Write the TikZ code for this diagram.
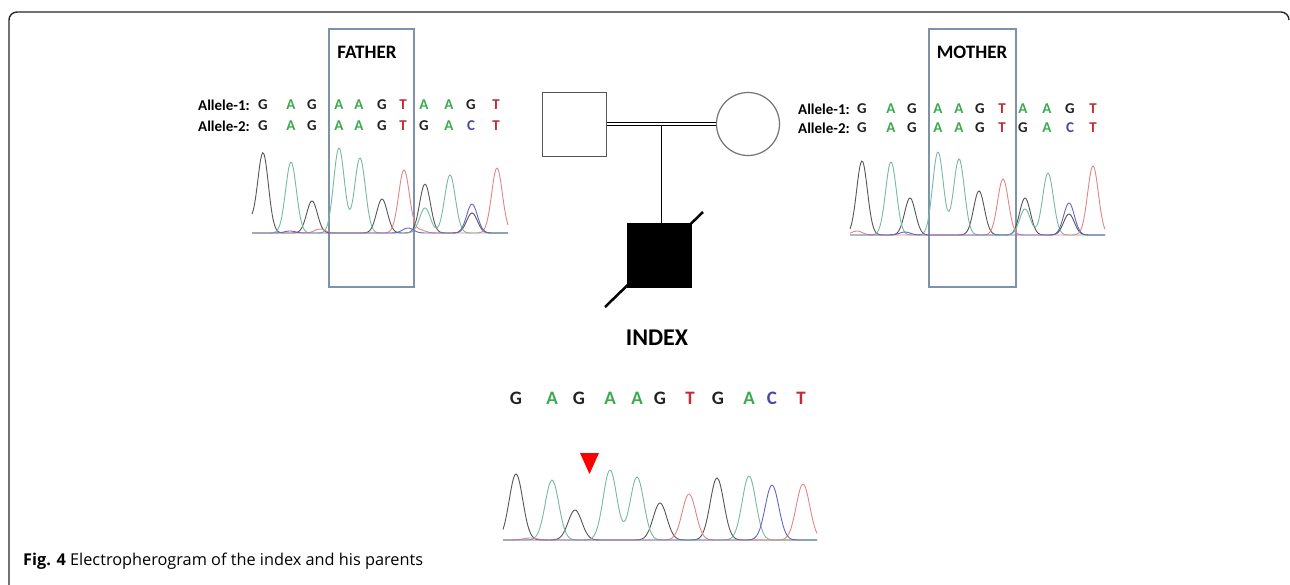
\documentclass[tikz,border=0pt]{standalone}
\usepackage{fontspec}
\setmainfont{Carlito}
\newfontfamily\capfont{Open Sans}
\usetikzlibrary{calc}
\definecolor{colA}{HTML}{3BAA4E}
\definecolor{colG}{HTML}{222222}
\definecolor{colT}{HTML}{C42B33}
\definecolor{colC}{HTML}{4848A8}
\definecolor{trK}{HTML}{555555}
\definecolor{trG}{HTML}{76B8A0}
\definecolor{trR}{HTML}{E28585}
\definecolor{trB}{HTML}{6464C8}
\definecolor{boxc}{HTML}{7D93AB}
\definecolor{pedc}{HTML}{555555}
\newcommand\gp[2]{#2*exp(-min(((\x-#1)/\sg)^2,20))}
\newcommand\chrom[5]{\draw[#1,line width=0.9pt] plot[domain=#2:#3,samples=240,smooth] (\x,{#4-(#5)});}
\tikzset{
  nuc/.style={text=col#1,font=\bfseries\fontsize{15}{15}\selectfont,inner sep=0pt},
  inuc/.style={text=col#1,font=\bfseries\fontsize{19}{19}\selectfont,inner sep=0pt},
  allele/.style={font=\bfseries\fontsize{15}{15}\selectfont,inner sep=0pt,anchor=west},
  selbox/.style={draw=boxc,line width=1.2pt,inner sep=0pt},
  title/.style={font=\bfseries\fontsize{19}{19}\selectfont,inner sep=0pt},
}
\begin{document}
\begin{tikzpicture}[x=1pt,y=-1pt]
\useasboundingbox (0,0) rectangle (1290,584);
% frame
\draw[line width=1.4pt,draw=black!85,rounded corners=8pt] (9,600) -- (9,12) -- (1289,12) -- (1289,20);
% ---------------- FATHER ----------------
\node[selbox,minimum width=85pt,minimum height=258pt] (fbox) at (371.5,158) {};
\node[title] (flbl) at (367,52) {FATHER};
\node[allele] (fa1) at (198,105) {Allele-1:};
\node[allele] (fa2) at (198,126) {Allele-2:};
\foreach \p/\l [count=\i] in {263/G,291/A,312/G,339/A,359/A,382/G,403/T,424/A,449/A,471/G,496/T}
  \node[nuc=\l] (f1-\i) at (\p,105) {\l};
\foreach \p/\l [count=\i] in {263/G,291/A,312/G,339/A,359/A,382/G,403/T,424/G,449/A,471/C,496/T}
  \node[nuc=\l] (f2-\i) at (\p,126) {\l};
\def\sg{7.6}
\chrom{trK}{252}{508}{233}{\gp{263}{80}+\gp{312}{32}+\gp{382}{34}+\gp{425}{49}+\gp{472}{20}+\gp{248}{12}}
\chrom{trG}{252}{508}{233}{\gp{291}{71}+\gp{339}{85}+\gp{360}{75}+\gp{425}{25}+\gp{450}{58}}
\chrom{trR}{252}{508}{233}{\gp{404}{63}+\gp{497}{65}+\gp{320}{4}+\gp{420}{3}}
\chrom{trB}{252}{508}{233}{\gp{472}{29}+\gp{408}{5}+\gp{290}{2}}
% ---------------- MOTHER ----------------
\node[selbox,minimum width=87pt,minimum height=258pt] (mbox) at (972.5,158) {};
\node[title] (mlbl) at (972,52) {MOTHER};
\node[allele] (ma1) at (798,109) {Allele-1:};
\node[allele] (ma2) at (798,128) {Allele-2:};
\foreach \p/\l [count=\i] in {862/G,891/A,912/G,938/A,959/A,980/G,1002/T,1023/A,1047/A,1070/G,1093/T}
  \node[nuc=\l] (m1-\i) at (\p,109) {\l};
\foreach \p/\l [count=\i] in {862/G,891/A,912/G,938/A,959/A,980/G,1002/T,1023/G,1047/A,1070/C,1093/T}
  \node[nuc=\l] (m2-\i) at (\p,128) {\l};
\chrom{trK}{850}{1105}{235}{\gp{862}{74}+\gp{910}{37}+\gp{979}{44}+\gp{1025}{37}+\gp{1069}{21}}
\chrom{trG}{850}{1105}{235}{\gp{891}{73}+\gp{938}{83}+\gp{959}{76}+\gp{1025}{26}+\gp{1048}{62}}
\chrom{trR}{850}{1105}{235}{\gp{1003}{56}+\gp{1093}{69}+\gp{857}{4}}
\chrom{trB}{850}{1105}{235}{\gp{1069}{32}+\gp{905}{3}}
% ---------------- PEDIGREE ----------------
\node[draw=pedc,line width=1pt,minimum size=64pt,inner sep=0pt] (father) at (574,124) {};
\node[circle,draw=black!55,line width=1.2pt,minimum size=63pt,inner sep=0pt] (mother) at (748,124) {};
\draw[double distance=2.8pt,line width=0.9pt] (father.east) -- (mother.west);
\coordinate (mid) at ($(father.east)!0.5!(mother.west)+(0,2.3)$);
\node[draw,fill=black,minimum size=64pt,inner sep=0pt] (index) at (659,255) {};
\draw[line width=1.1pt] (mid) -- (mid |- index.north);
\draw[line width=2.5pt] ($(index.center)+(-54,52)$) -- ($(index.center)+(44,-43)$);
% ---------------- INDEX ----------------
\node[font=\bfseries\fontsize{24}{24}\selectfont,inner sep=0pt] (ilbl) at (657,338) {INDEX};
\foreach \p/\l [count=\i] in {516/G,552/A,579/G,610/A,637/A,660/G,690/T,718/G,749/A,772/C,801/T}
  \node[inuc=\l] (i-\i) at (\p,398) {\l};
\fill[red] (580,453) -- (599,453) -- (589.5,474) -- cycle;
\def\sg{9.6}
\chrom{trK}{503}{817}{540}{\gp{516}{66}+\gp{575}{30}+\gp{660}{37}+\gp{717}{62}}
\chrom{trG}{503}{817}{540}{\gp{552}{60}+\gp{610}{70}+\gp{637}{63}+\gp{749}{64}}
\chrom{trR}{503}{817}{540}{\gp{689}{46}+\gp{803}{56}+\gp{530}{2}}
\chrom{trB}{503}{817}{540}{\gp{772}{55}}
% ---------------- CAPTION ----------------
\node[anchor=west,inner sep=0pt,font=\capfont\fontsize{16.3}{16.3}\selectfont] (cap) at (23,561)
  {\textbf{Fig. 4} Electropherogram of the index and his parents};
\end{tikzpicture}
\end{document}
